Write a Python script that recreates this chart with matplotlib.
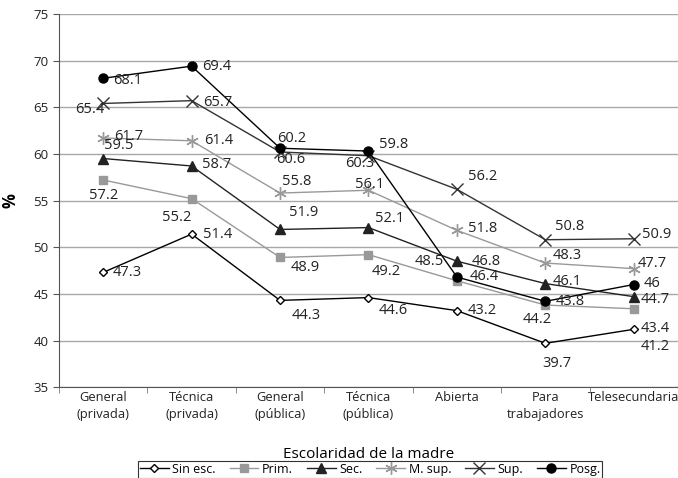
import numpy as np
import matplotlib
matplotlib.use("Agg")
import matplotlib.pyplot as plt

plt.rcParams['font.family'] = ['Open Sans', 'DejaVu Sans']

# datos
categorias = ['General\n(privada)', 'Técnica\n(privada)', 'General\n(pública)',
              'Técnica\n(pública)', 'Abierta', 'Para\ntrabajadores', 'Telesecundaria']
series = ['Sin esc.', 'Prim.', 'Sec.', 'M. sup.', 'Sup.', 'Posg.']
sin_esc = [47.3, 51.4, 44.3, 44.6, 43.2, 39.7, 41.2]
prim = [57.2, 55.2, 48.9, 49.2, 46.4, 43.8, 43.4]
sec = [59.5, 58.7, 51.9, 52.1, 48.5, 46.1, 44.7]
m_sup = [61.7, 61.4, 55.8, 56.1, 51.8, 48.3, 47.7]
sup = [65.4, 65.7, 60.2, 59.8, 56.2, 50.8, 50.9]
posg = [68.1, 69.4, 60.6, 60.3, 46.8, 44.2, 46.0]
valores = [sin_esc, prim, sec, m_sup, sup, posg]

# estilo de cada serie
estilos = [
    dict(color='black', marker='D', mfc='white', mec='black', ms=4.5, mew=1),
    dict(color='#999999', marker='s', mfc='#999999', mec='#999999', ms=6),
    dict(color='#222222', marker='^', mfc='#222222', mec='#222222', ms=6.5),
    dict(color='#999999', marker=(6, 2, 0), mfc='#999999', mec='#999999', ms=9, mew=1),
    dict(color='#333333', marker='x', mfc='#333333', mec='#333333', ms=8, mew=1),
    dict(color='black', marker='o', mfc='black', mec='black', ms=6.5),
]

# desplazamiento de etiquetas (px: dx, dy hacia abajo)
desp = [
    [(24, 0), (26, 0), (26, 15), (25, 13), (25, 0), (12, 20), (21, 17)],
    [(0, 16), (-15, 19), (25, 10), (18, 17), (27, -4), (25, -4), (21, 20)],
    [(15, -13), (25, -1), (24, -17), (21, -9), (-28, 0), (22, -2), (21, 3)],
    [(25, -1), (27, 0), (17, -12), (1, -6), (26, -2), (22, -8), (18, -5)],
    [(-13, 6), (26, 2), (12, -13), (25, -11), (26, -13), (24, -13), (23, -4)],
    [(24, 2), (25, 0), (11, 11), (-9, 12), (29, -16), (-8, 18), (18, -1)],
]

fig = plt.figure(figsize=(6.78, 4.78), dpi=100)
ax = fig.add_axes([0.087, 0.19, 0.913, 0.781])

x = np.arange(len(categorias))
for nombre, vals, est, off in zip(series, valores, estilos, desp):
    ax.plot(x, vals, lw=1, label=nombre, zorder=3, **est)
    for xi, v, (dx, dy) in zip(x, vals, off):
        txt = ('%g' % v)
        ax.annotate(txt, (xi, v), xytext=(dx * 0.72, -dy * 0.72),
                    textcoords='offset points', ha='center', va='center',
                    fontsize=10.5, color='#222222', zorder=4)

ax.set_xlim(-0.5, len(categorias) - 0.5)
ax.set_ylim(35, 75)
ax.set_yticks(np.arange(35, 76, 5))
ax.yaxis.grid(True, color='#a8a8a8', lw=1)
ax.set_axisbelow(True)

ax.set_xticks(x)
ax.set_xticklabels(categorias, fontsize=9.3, color='#222222', linespacing=1.35)
ax.set_xticks(np.arange(-0.5, len(categorias)), minor=True)
ax.tick_params(axis='x', which='major', length=0, pad=3)
ax.tick_params(axis='x', which='minor', length=4, color='#777777')
ax.tick_params(axis='y', length=4, color='#555555', labelsize=9.5, labelcolor='#222222')

for s in ['top', 'right']:
    ax.spines[s].set_visible(False)
ax.spines['left'].set_color('#555555')
ax.spines['bottom'].set_color('#555555')

ax.set_ylabel('%', fontsize=12, fontweight='bold', labelpad=10)
ax.set_xlabel('Escolaridad de la madre', fontsize=11, labelpad=19)

leg = fig.legend(loc='upper center', bbox_to_anchor=(0.546, 0.036), ncol=6,
                 fontsize=9, frameon=True, fancybox=False, edgecolor='black',
                 handlelength=2.3, columnspacing=1.1, handletextpad=0.3,
                 borderpad=0.15, borderaxespad=0)
leg.get_frame().set_linewidth(0.8)

fig.savefig('out.png', dpi=100)
